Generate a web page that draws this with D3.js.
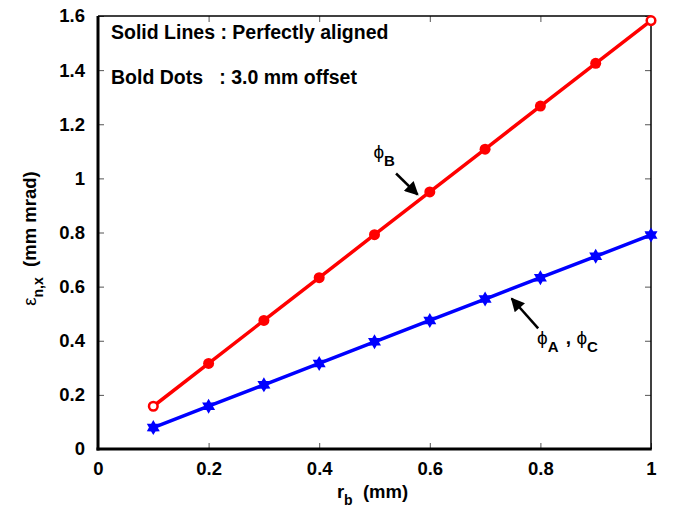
<!DOCTYPE html>
<html>
<head>
<meta charset="utf-8">
<script src="https://cdn.jsdelivr.net/npm/d3@7"></script>
<style>
  body { margin: 0; background: #fff; }
  svg text { font-family: "Liberation Sans", Arial, sans-serif; font-weight: bold; fill: #000; }
  .tick line { stroke: #555; }
  .domain { display: none; }
</style>
</head>
<body>
<div class="chart-container"></div>
<script>
var totalWidth = 678;
var totalHeight = 513;
var margin = { top: 16, bottom: 64, left: 98, right: 27 };
var width = totalWidth - margin.left - margin.right;
var height = totalHeight - margin.top - margin.bottom;

// data
var rb = [0.1, 0.2, 0.3, 0.4, 0.5, 0.6, 0.7, 0.8, 0.9, 1.0];
var phiB = [0.158, 0.316, 0.475, 0.633, 0.792, 0.950, 1.108, 1.267, 1.425, 1.583];
var phiAC = [0.079, 0.158, 0.237, 0.316, 0.396, 0.475, 0.554, 0.633, 0.712, 0.791];
var xTicks = [0, 0.2, 0.4, 0.6, 0.8, 1];
var yTicks = [0, 0.2, 0.4, 0.6, 0.8, 1, 1.2, 1.4, 1.6];

var svg = d3.select('.chart-container').append('svg')
  .attr('width', totalWidth)
  .attr('height', totalHeight);

var x = d3.scaleLinear().domain([0, 1]).range([0, width]);
var y = d3.scaleLinear().domain([0, 1.6]).range([height, 0]);

var g = svg.append('g')
  .attr('transform', `translate(${margin.left}, ${margin.top})`);

// axes, ticks pointing inward
var fmt = d => d === 0 ? '0' : (d === 1 ? '1' : d3.format('.1f')(d));
g.append('g')
  .attr('transform', `translate(0, ${height})`)
  .call(d3.axisBottom(x).tickValues(xTicks).tickFormat(fmt).tickSizeInner(-6).tickPadding(13))
  .selectAll('text').style('font-size', '18.5px');
g.append('g')
  .call(d3.axisLeft(y).tickValues(yTicks).tickFormat(fmt).tickSizeInner(-6).tickPadding(13))
  .selectAll('text').style('font-size', '18.5px');
g.append('g')
  .call(d3.axisTop(x).tickValues(xTicks).tickFormat('').tickSizeInner(-6));
g.append('g')
  .attr('transform', `translate(${width}, 0)`)
  .call(d3.axisRight(y).tickValues(yTicks).tickFormat('').tickSizeInner(-6));

// frame
g.append('line').attr('x1', 0).attr('x2', width).attr('y1', 0).attr('y2', 0)
  .attr('stroke', '#000').attr('stroke-width', 1.5);
g.append('line').attr('x1', width).attr('x2', width).attr('y1', 0).attr('y2', height)
  .attr('stroke', '#000').attr('stroke-width', 1.5);
g.append('line').attr('x1', 0).attr('x2', 0).attr('y1', 0).attr('y2', height + 1.5)
  .attr('stroke', '#000').attr('stroke-width', 3);
g.append('line').attr('x1', -1.5).attr('x2', width + 0.75).attr('y1', height).attr('y2', height)
  .attr('stroke', '#000').attr('stroke-width', 3);

var line = d3.line().x((d, i) => x(rb[i])).y(d => y(d));

// phi B (red)
g.append('path').datum(phiB)
  .attr('d', line).attr('fill', 'none').attr('stroke', '#ff0000').attr('stroke-width', 3.5);
g.selectAll('.dotB').data(phiB).enter()
  .append('circle')
    .attr('class', 'dotB')
    .attr('cx', (d, i) => x(rb[i]))
    .attr('cy', d => y(d))
    .attr('r', (d, i) => (i === 0 || i === rb.length - 1) ? 4.3 : 5.5)
    .attr('fill', (d, i) => (i === 0 || i === rb.length - 1) ? '#fff' : '#ff0000')
    .attr('stroke', '#ff0000')
    .attr('stroke-width', (d, i) => (i === 0 || i === rb.length - 1) ? 2.5 : 0);

// phi A, phi C (blue)
g.append('path').datum(phiAC)
  .attr('d', line).attr('fill', 'none').attr('stroke', '#0000ff').attr('stroke-width', 3.5);
function hexagram(r) {
  var pts = [];
  for (var k = 0; k < 12; k++) {
    var a = Math.PI / 2 + k * Math.PI / 6;
    var rr = k % 2 === 0 ? r : r * 0.58;
    pts.push([rr * Math.cos(a), -rr * Math.sin(a)]);
  }
  return 'M' + pts.join('L') + 'Z';
}
g.selectAll('.dotAC').data(phiAC).enter()
  .append('path')
    .attr('class', 'dotAC')
    .attr('transform', (d, i) => `translate(${x(rb[i])}, ${y(d)})`)
    .attr('d', hexagram(7.5))
    .attr('fill', '#0000ff');

// annotations
g.append('text').attr('x', 13).attr('y', 23).style('font-size', '19.5px')
  .text('Solid Lines : Perfectly aligned');
g.append('text').attr('x', 13).attr('y', 68).style('font-size', '19.5px')
  .attr('xml:space', 'preserve')
  .text('Bold Dots   : 3.0 mm offset');

svg.append('defs').append('marker')
  .attr('id', 'arrow').attr('viewBox', '0 0 10 10')
  .attr('refX', 9).attr('refY', 5)
  .attr('markerWidth', 6.5).attr('markerHeight', 5.5)
  .attr('markerUnits', 'strokeWidth')
  .attr('orient', 'auto')
  .append('path').attr('d', 'M0,0L10,5L0,10Z').attr('fill', '#000');

g.append('line')
  .attr('x1', x(0.539)).attr('y1', y(1.018))
  .attr('x2', x(0.578)).attr('y2', y(0.94))
  .attr('stroke', '#000').attr('stroke-width', 2.5)
  .attr('marker-end', 'url(#arrow)');
g.append('line')
  .attr('x1', x(0.796)).attr('y1', y(0.446))
  .attr('x2', x(0.748)).attr('y2', y(0.556))
  .attr('stroke', '#000').attr('stroke-width', 2.5)
  .attr('marker-end', 'url(#arrow)');

var tB = g.append('text').attr('x', x(0.498)).attr('y', y(1.075)).style('font-size', '19px');
tB.append('tspan').style('font-weight', 'normal').text('\u03d5');
tB.append('tspan').attr('dy', 8).style('font-size', '15px').text('B');

var tAC = g.append('text').attr('x', x(0.794)).attr('y', y(0.387)).style('font-size', '19px');
tAC.append('tspan').style('font-weight', 'normal').text('\u03d5');
tAC.append('tspan').attr('dy', 8).style('font-size', '15px').text('A');
tAC.append('tspan').attr('dy', -8).attr('dx', 2).attr('xml:space', 'preserve').text(' , ');
tAC.append('tspan').style('font-weight', 'normal').text('\u03d5');
tAC.append('tspan').attr('dy', 8).style('font-size', '15px').text('C');

// axis labels
var xl = svg.append('text')
  .attr('transform', `translate(${margin.left + width / 2 - 2}, 498)`)
  .attr('text-anchor', 'middle').style('font-size', '18.5px');
xl.append('tspan').text('r');
xl.append('tspan').attr('dy', 7).style('font-size', '14px').text('b');
xl.append('tspan').attr('dy', -7).attr('xml:space', 'preserve').text('  (mm)');

var yl = svg.append('text')
  .attr('transform', `translate(36, ${margin.top + height / 2 + 6}) rotate(-90)`)
  .attr('text-anchor', 'middle').style('font-size', '18.5px');
yl.append('tspan').style('font-weight', 'normal').text('\u03b5');
yl.append('tspan').attr('dy', 7).style('font-size', '14px').text('n,x');
yl.append('tspan').attr('dy', -7).attr('xml:space', 'preserve').text('  (mm mrad)');
</script>
</body>
</html>
